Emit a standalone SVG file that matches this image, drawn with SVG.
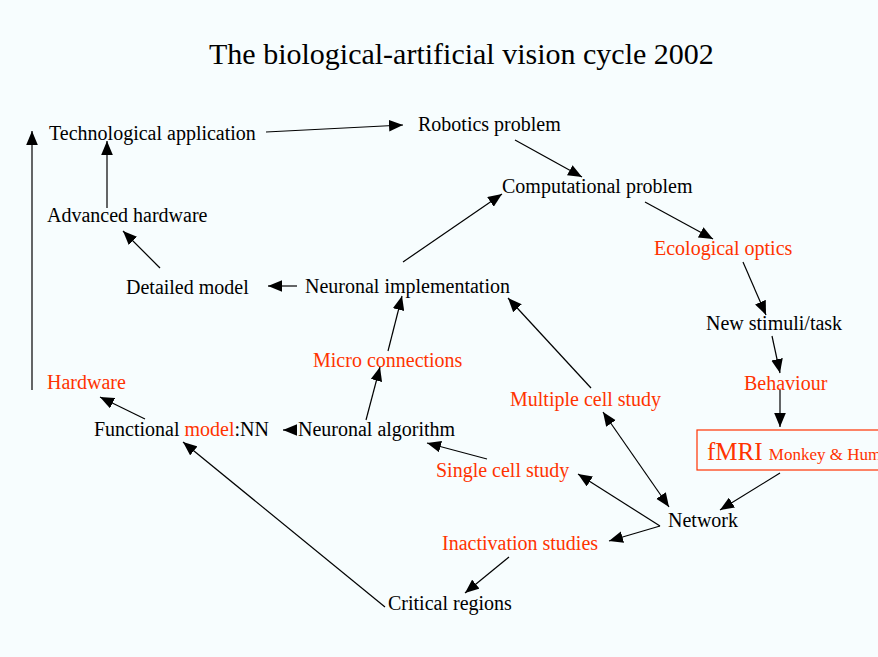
<svg xmlns="http://www.w3.org/2000/svg" width="878" height="657" viewBox="0 0 878 657">
<style>
text{font-family:"Liberation Serif","Times New Roman",serif;font-size:20px;fill:#000}
.r{fill:#ff3300}
.t{font-size:30px}
line{stroke:#000;stroke-width:1.2}
</style>
<defs>
<marker id="ah" markerUnits="userSpaceOnUse" markerWidth="14" markerHeight="12" refX="12" refY="5" orient="auto-start-reverse" viewBox="0 0 12 10">
<path d="M0,0 L12,5 L0,10 Z" fill="#000"/>
</marker>
</defs>
<rect width="878" height="657" fill="#f7fdfe"/>
<text class="t" x="209" y="64">The biological-artificial vision cycle 2002</text>
<g id="tech"><text x="49" y="140">Technological application</text></g>
<g id="robotics"><text x="418" y="131">Robotics problem</text></g>
<g id="computational"><text x="502" y="193">Computational problem</text></g>
<g id="advhw"><text x="47" y="222">Advanced hardware</text></g>
<g id="ecological"><text class="r" x="654" y="255">Ecological optics</text></g>
<g id="detailed"><text x="126" y="294">Detailed model</text></g>
<g id="neurimpl"><text x="305" y="293">Neuronal implementation</text></g>
<g id="newstim"><text x="706" y="330">New stimuli/task</text></g>
<g id="micro"><text class="r" x="313" y="367">Micro connections</text></g>
<g id="hardware"><text class="r" x="47" y="389">Hardware</text></g>
<g id="behaviour"><text class="r" x="744" y="390">Behaviour</text></g>
<g id="multiple"><text class="r" x="510" y="406">Multiple cell study</text></g>
<g id="functional"><text x="94" y="436">Functional <tspan class="r">model</tspan>:NN</text></g>
<g id="neuralg"><text x="298" y="436">Neuronal algorithm</text></g>
<g id="fmri"><rect x="697" y="430" width="200" height="40" fill="none" stroke="#ff3300" stroke-width="1.2"/><text class="r" x="707" y="460" style="font-size:25px">fMRI <tspan style="font-size:17px">Monkey &amp; Human</tspan></text></g>
<g id="single"><text class="r" x="436" y="477">Single cell study</text></g>
<g id="network"><text x="668" y="527">Network</text></g>
<g id="inactivation"><text class="r" x="442" y="550">Inactivation studies</text></g>
<g id="critical"><text x="388" y="610">Critical regions</text></g>
<g id="connectors" marker-end="url(#ah)">
<line x1="32" y1="390" x2="32" y2="131"/>
<line x1="266" y1="132" x2="403" y2="125"/>
<line x1="107" y1="208" x2="107" y2="141"/>
<line x1="160" y1="268" x2="123" y2="231"/>
<line x1="297" y1="286" x2="268" y2="286"/>
<line x1="403" y1="262" x2="502" y2="194"/>
<line x1="515" y1="140" x2="582" y2="177"/>
<line x1="645" y1="202" x2="713" y2="239"/>
<line x1="743" y1="262" x2="766" y2="315"/>
<line x1="772" y1="336" x2="780" y2="373"/>
<line x1="780" y1="390" x2="780" y2="427"/>
<line x1="780" y1="473" x2="720" y2="510"/>
<line x1="603" y1="412" x2="669" y2="507" marker-start="url(#ah)"/>
<line x1="660" y1="526" x2="578" y2="474"/>
<line x1="660" y1="526" x2="609" y2="541"/>
<line x1="509" y1="557" x2="465" y2="593"/>
<line x1="385" y1="607" x2="183" y2="442"/>
<line x1="487" y1="459" x2="427" y2="443"/>
<line x1="366" y1="420" x2="380" y2="367"/>
<line x1="388" y1="351" x2="402" y2="296"/>
<line x1="591" y1="388" x2="508" y2="298"/>
<line x1="293" y1="430" x2="283" y2="430"/>
<line x1="145" y1="419" x2="100" y2="397"/>
</g>
</svg>
